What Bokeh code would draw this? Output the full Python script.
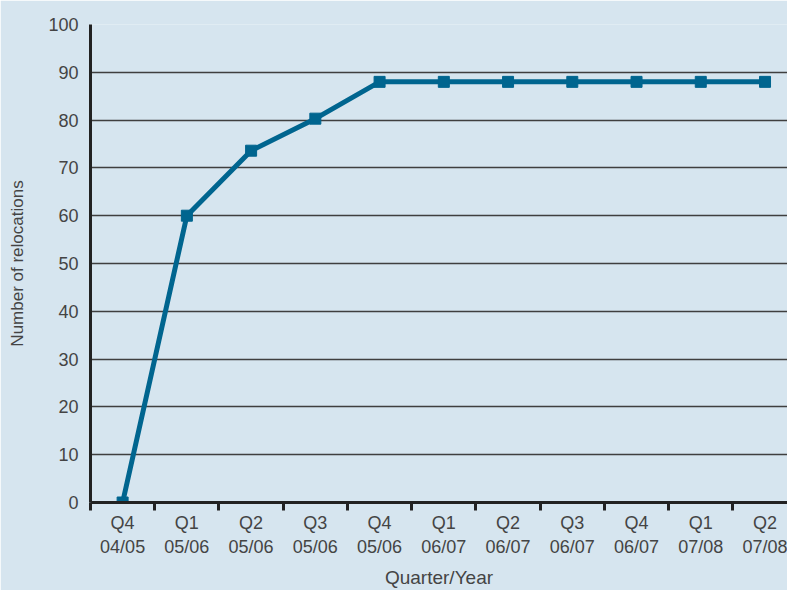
from bokeh.plotting import figure
from bokeh.models import Range1d, FixedTicker
from bokeh.embed import file_html
from bokeh.resources import INLINE

quarters = ["Q4\n04/05", "Q1\n05/06", "Q2\n05/06", "Q3\n05/06", "Q4\n05/06", "Q1\n06/07",
            "Q2\n06/07", "Q3\n06/07", "Q4\n06/07", "Q1\n07/08", "Q2\n07/08"]
relocations = [0, 60, 73.6, 80.3, 88, 88, 88, 88, 88, 88, 88]
y_ticks = [0, 10, 20, 30, 40, 50, 60, 70, 80, 90, 100]

BG = "#d6e5ef"
LINE = "#00658f"
TXT = "#444444"
FONT = "Liberation Sans"

xs = list(range(len(quarters)))

p = figure(width=787, height=590, x_range=Range1d(-0.5, 10.35), y_range=Range1d(0, 100),
           output_backend="svg", toolbar_location=None,
           min_border_left=90, min_border_right=0, min_border_top=24, min_border_bottom=88)
p.background_fill_color = BG
p.border_fill_color = BG
p.outline_line_color = None

# x axis
p.xaxis.ticker = FixedTicker(ticks=xs, minor_ticks=[i - 0.5 for i in range(len(quarters) + 1)])
p.xaxis.major_label_overrides = {i: q for i, q in enumerate(quarters)}
p.xaxis.major_tick_out = 0
p.xaxis.major_tick_in = 0
p.xaxis.minor_tick_out = 8
p.xaxis.minor_tick_in = 0
p.xaxis.minor_tick_line_color = "#222222"
p.xaxis.minor_tick_line_width = 3
p.xaxis.axis_line_color = "#222222"
p.xaxis.axis_line_width = 3
p.xaxis.major_label_text_font = FONT
p.xaxis.major_label_text_font_size = "18px"
p.xaxis.major_label_text_color = TXT
p.xaxis.major_label_standoff = 2
p.xaxis.axis_label = "Quarter/Year"
p.xaxis.axis_label_text_font = FONT
p.xaxis.axis_label_text_font_style = "normal"
p.xaxis.axis_label_text_font_size = "19px"
p.xaxis.axis_label_text_color = TXT
p.xaxis.axis_label_standoff = 7

# y axis
p.yaxis.ticker = FixedTicker(ticks=y_ticks)
p.yaxis.major_tick_out = 0
p.yaxis.major_tick_in = 0
p.yaxis.minor_tick_line_color = None
p.yaxis.axis_line_color = "#222222"
p.yaxis.axis_line_width = 3
p.yaxis.major_label_text_font = FONT
p.yaxis.major_label_text_font_size = "18px"
p.yaxis.major_label_text_color = TXT
p.yaxis.major_label_standoff = 12
p.yaxis.axis_label = "Number of relocations"
p.yaxis.axis_label_text_font = FONT
p.yaxis.axis_label_text_font_style = "normal"
p.yaxis.axis_label_text_font_size = "17px"
p.yaxis.axis_label_text_color = TXT
p.yaxis.axis_label_standoff = 18

p.xgrid.grid_line_color = None
p.ygrid.grid_line_color = "#3f3f3f"
p.ygrid.grid_line_width = 1.4

p.line(xs, relocations, line_color=LINE, line_width=5)
p.scatter(xs, relocations, marker="square", size=11, fill_color=LINE, line_color=LINE)

html = file_html(p, INLINE)
html = html.replace("<body>", '<body style="background:%s">' % BG, 1)
open("out.html", "w").write(html)
